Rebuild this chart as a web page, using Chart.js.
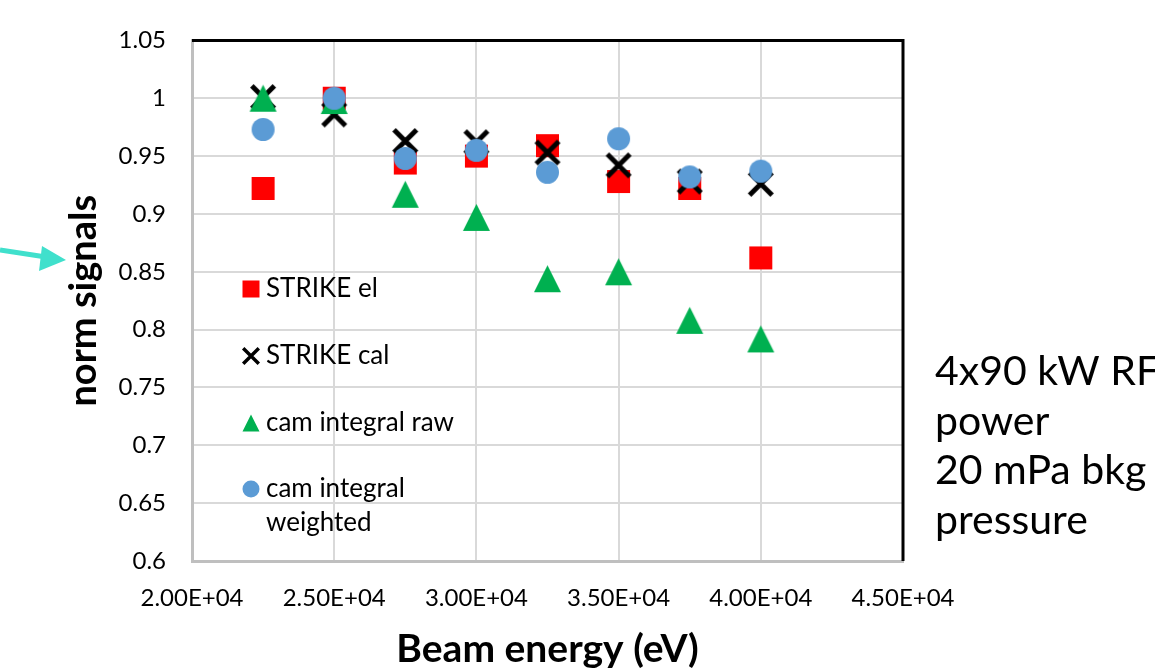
<!DOCTYPE html>
<html lang="en">
<head>
<meta charset="UTF-8">
<title>Norm signals vs beam energy</title>
<script src="https://cdn.jsdelivr.net/npm/chart.js"></script>
<style>
  html, body { margin: 0; padding: 0; background: #fff; }
  #wrap { position: relative; width: 1155px; height: 669px; overflow: hidden; }
</style>
</head>
<body>
<div id="wrap"><canvas id="signalChart" width="1155" height="669"></canvas></div>
<script>
// beam energy (eV) and normalised signals per diagnostic
const energies = [22500, 25000, 27500, 30000, 32500, 35000, 37500, 40000];
const strikeEl = [0.922, 1.0, 0.944, 0.950, 0.959, 0.928, 0.922, 0.862];
const strikeCal = [1.001, 0.986, 0.963, 0.962, 0.953, 0.942, 0.928, 0.926];
const camRaw = [1.0, 0.998, 0.917, 0.897, 0.844, 0.850, 0.808, 0.792];
const camWeighted = [0.973, 1.0, 0.948, 0.955, 0.936, 0.965, 0.932, 0.937];
const seriesNames = ['STRIKE el', 'STRIKE cal', 'cam integral raw', 'cam integral\nweighted'];
const noteLines = ['4x90 kW RF', 'power', '20 mPa bkg', 'pressure'];

const FONT = 'Lato, "Open Sans", sans-serif';

function drawMarker(ctx, kind, x, y, s) {
  const h = s / 2;
  ctx.save();
  if (kind === 'square') {
    ctx.fillStyle = '#ff0000';
    ctx.fillRect(x - h, y - h, s, s);
  } else if (kind === 'cross') {
    const lw = s * 0.19;
    const a = h - lw * 0.35;
    ctx.strokeStyle = '#000';
    ctx.lineWidth = lw;
    ctx.beginPath();
    ctx.moveTo(x - a, y - a); ctx.lineTo(x + a, y + a);
    ctx.moveTo(x + a, y - a); ctx.lineTo(x - a, y + a);
    ctx.stroke();
  } else if (kind === 'triangle') {
    ctx.fillStyle = '#00b050';
    ctx.beginPath();
    ctx.moveTo(x, y - h);
    ctx.lineTo(x + h, y + h);
    ctx.lineTo(x - h, y + h);
    ctx.closePath();
    ctx.fill();
  } else {
    ctx.fillStyle = '#5b9bd5';
    ctx.beginPath();
    ctx.arc(x, y, h, 0, Math.PI * 2);
    ctx.fill();
  }
  ctx.restore();
}

function makeMarker(kind, s) {
  const c = document.createElement('canvas');
  c.width = c.height = Math.ceil(s) + 4;
  drawMarker(c.getContext('2d'), kind, c.width / 2, c.height / 2, s);
  return c;
}

const kinds = ['square', 'cross', 'triangle', 'circle'];
const plotSizes = { square: 23, cross: 26, triangle: 27, circle: 23 };
const keySizes = { square: 17, cross: 18, triangle: 17, circle: 17 };

function sciLabel(v) {
  const [m, e] = Number(v).toExponential(2).split('e');
  const n = parseInt(e, 10);
  return m + 'E' + (n < 0 ? '-' : '+') + String(Math.abs(n)).padStart(2, '0');
}

function points(ys) {
  return energies.map((x, i) => ({ x: x, y: ys[i] }));
}

// legend sits inside the plot, below the data
const keyPlugin = {
  id: 'insideKey',
  afterDatasetsDraw(chart) {
    const ctx = chart.ctx;
    const rowsY = [289, 356, 423, 489];
    ctx.save();
    ctx.font = '26px ' + FONT;
    ctx.fillStyle = '#000';
    ctx.textBaseline = 'middle';
    seriesNames.forEach((name, i) => {
      drawMarker(ctx, kinds[i], 251, rowsY[i], keySizes[kinds[i]]);
      name.split('\n').forEach((line, j) => {
        ctx.fillText(line, 266, rowsY[i] + j * 34);
      });
    });
    ctx.restore();
  }
};

// black frame on top/right, side note and the pointer arrow
const extrasPlugin = {
  id: 'extras',
  afterDraw(chart) {
    const ctx = chart.ctx;
    const a = chart.chartArea;
    ctx.save();
    ctx.strokeStyle = '#000';
    ctx.lineWidth = 3;
    ctx.beginPath();
    ctx.moveTo(a.left, a.top);
    ctx.lineTo(a.right, a.top);
    ctx.lineTo(a.right, a.bottom);
    ctx.stroke();

    ctx.font = '41px ' + FONT;
    ctx.fillStyle = '#000';
    ctx.textBaseline = 'alphabetic';
    noteLines.forEach((t, i) => ctx.fillText(t, 935, 385 + i * 49.5));

    ctx.strokeStyle = '#40e0cc';
    ctx.fillStyle = '#40e0cc';
    ctx.lineWidth = 5;
    ctx.beginPath();
    ctx.moveTo(0, 250);
    ctx.lineTo(46, 257);
    ctx.stroke();
    ctx.beginPath();
    ctx.moveTo(66, 260);
    ctx.lineTo(42, 246);
    ctx.lineTo(39, 271);
    ctx.closePath();
    ctx.fill();
    ctx.restore();
  }
};

const datasets = [strikeEl, strikeCal, camRaw, camWeighted].map((ys, i) => ({
  label: seriesNames[i],
  data: points(ys),
  pointStyle: makeMarker(kinds[i], plotSizes[kinds[i]]),
  pointRadius: 12,
  showLine: false,
  order: 4 - i
}));

new Chart(document.getElementById('signalChart'), {
  type: 'scatter',
  data: { datasets: datasets },
  plugins: [keyPlugin, extrasPlugin],
  options: {
    responsive: false,
    animation: false,
    devicePixelRatio: 1,
    layout: { padding: { top: 40, right: 252, bottom: 0, left: 0 } },
    plugins: { legend: { display: false }, tooltip: { enabled: false } },
    scales: {
      x: {
        type: 'linear',
        min: 20000,
        max: 45000,
        afterFit(scale) { scale.height = 108; },
        ticks: {
          stepSize: 5000,
          padding: 23,
          color: '#000',
          font: { family: FONT, size: 24 },
          callback: v => sciLabel(v)
        },
        grid: { color: '#d9d9d9', lineWidth: 2, drawTicks: false },
        border: { color: '#bfbfbf', width: 3 },
        title: {
          display: true,
          text: 'Beam energy (eV)',
          color: '#000',
          font: { family: FONT, size: 39, weight: 'bold' },
          padding: { top: 0, bottom: -4 }
        }
      },
      y: {
        min: 0.6,
        max: 1.05,
        afterFit(scale) { scale.width = 192; },
        ticks: {
          stepSize: 0.05,
          padding: 26,
          color: '#000',
          font: { family: FONT, size: 24 },
          callback: v => String(parseFloat(Number(v).toFixed(2)))
        },
        grid: { color: '#d9d9d9', lineWidth: 2, drawTicks: false },
        border: { color: '#bfbfbf', width: 3 },
        title: {
          display: true,
          text: 'norm signals',
          color: '#000',
          font: { family: FONT, size: 38, weight: 'bold' },
          padding: { top: 61, bottom: 0 }
        }
      }
    }
  }
});
</script>
</body>
</html>
